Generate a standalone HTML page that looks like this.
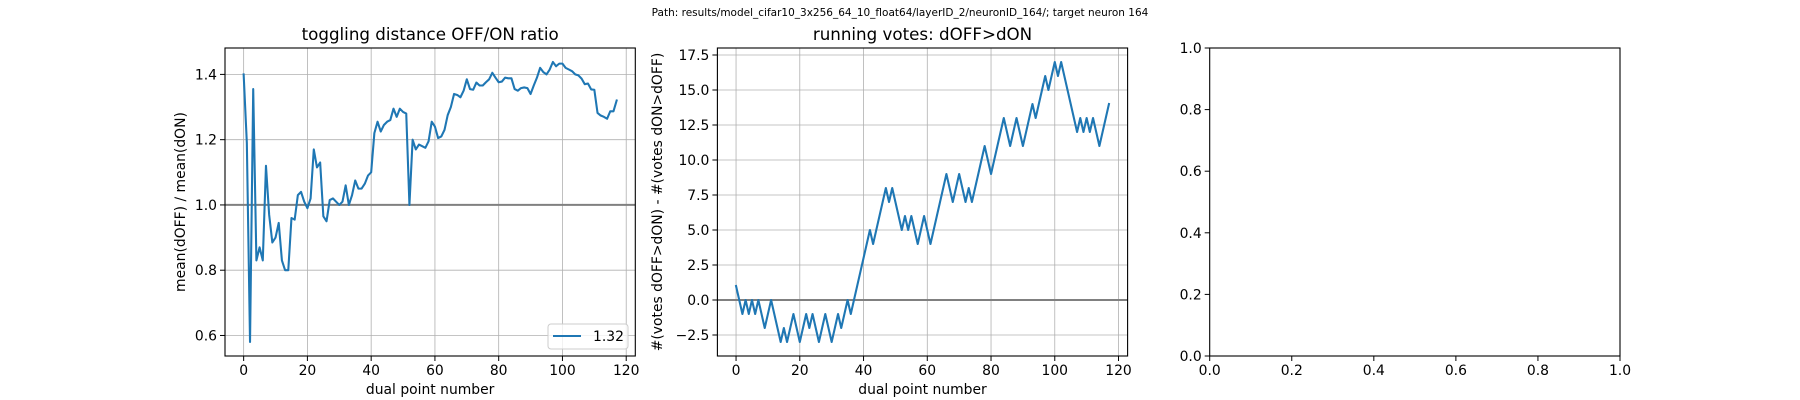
<!DOCTYPE html>
<html><head><meta charset="utf-8">
<style>
html,body{margin:0;padding:0;background:#fff;}
svg{display:block;font-family:"DejaVu Sans","Liberation Sans",sans-serif;}
</style></head>
<body>
<svg id="fig" width="1800" height="400" viewBox="0 0 1800 400" xmlns="http://www.w3.org/2000/svg">
<rect width="1800" height="400" fill="#fff"/>
<text x="900" y="16" font-size="10.5" text-anchor="middle" fill="#000">Path: results/model_cifar10_3x256_64_10_float64/layerID_2/neuronID_164/; target neuron 164</text>
</svg>
<script>
const ratioValues=[1.40,1.19,0.58,1.355,0.83,0.87,0.83,1.12,0.97,0.885,0.90,0.945,0.83,0.80,0.80,0.96,0.955,1.03,1.04,1.01,0.99,1.02,1.17,1.115,1.13,0.965,0.95,1.015,1.02,1.01,1.0,1.01,1.06,1.0,1.03,1.075,1.05,1.05,1.065,1.09,1.10,1.22,1.255,1.225,1.245,1.255,1.26,1.295,1.27,1.295,1.285,1.28,1.0,1.20,1.17,1.185,1.18,1.175,1.195,1.255,1.24,1.205,1.21,1.23,1.275,1.30,1.34,1.337,1.33,1.35,1.385,1.355,1.353,1.375,1.366,1.366,1.376,1.385,1.405,1.39,1.376,1.378,1.39,1.388,1.388,1.355,1.35,1.358,1.36,1.358,1.34,1.366,1.39,1.42,1.407,1.40,1.415,1.438,1.425,1.433,1.433,1.42,1.415,1.41,1.40,1.397,1.387,1.37,1.372,1.354,1.353,1.282,1.274,1.27,1.264,1.287,1.287,1.32];
const voteValues=[1,0,-1,0,-1,0,-1,0,-1,-2,-1,0,-1,-2,-3,-2,-3,-2,-1,-2,-3,-2,-1,-2,-1,-2,-3,-2,-1,-2,-3,-2,-1,-2,-1,0,-1,0,1,2,3,4,5,4,5,6,7,8,7,8,7,6,5,6,5,6,5,4,5,6,5,4,5,6,7,8,9,8,7,8,9,8,7,8,7,8,9,10,11,10,9,10,11,12,13,12,11,12,13,12,11,12,13,14,13,14,15,16,15,16,17,16,17,16,15,14,13,12,13,12,13,12,13,12,11,12,13,14];
const xTicks=[0,20,40,60,80,100,120];
const ratioYTicks=[0.6,0.8,1.0,1.2,1.4];
const voteYTicks=[-2.5,0,2.5,5,7.5,10,12.5,15,17.5];
const emptyTicks=[0,0.2,0.4,0.6,0.8,1.0];
const legendLabel=["1.32"];

const NS="http://www.w3.org/2000/svg";
const fig=document.getElementById('fig');
function el(tag,attrs,parent,text){const e=document.createElementNS(NS,tag);for(const k in attrs)e.setAttribute(k,attrs[k]);if(text!==undefined)e.textContent=text;(parent||fig).appendChild(e);return e;}
const TOP=48,BOT=356;
function fmt(v,d){let s=v.toFixed(d);return s.replace('-','\u2212');}

function makeAxes(name,L,R,xmin,xmax,ymin,ymax,opts){
  const g=el('g',{});
  
  
  const sx=v=>L+(v-xmin)/(xmax-xmin)*(R-L);
  const sy=v=>BOT-(v-ymin)/(ymax-ymin)*(BOT-TOP);
  if(opts.grid){
    opts.xt.forEach(t=>{const l=el('line',{x1:sx(t),x2:sx(t),y1:TOP,y2:BOT,stroke:'#b0b0b0','stroke-width':0.8},g);});
    opts.yt.forEach(t=>{const l=el('line',{x1:L,x2:R,y1:sy(t),y2:sy(t),stroke:'#b0b0b0','stroke-width':0.8},g);});
  }
  if(opts.ref!==undefined){const l=el('line',{x1:L,x2:R,y1:sy(opts.ref),y2:sy(opts.ref),stroke:'#808080','stroke-width':2},g);}
  if(opts.data){
    const pts=opts.data.map((v,i)=>sx(i).toFixed(2)+','+sy(v).toFixed(2)).join(' ');
    const p=el('polyline',{points:pts,fill:'none',stroke:'#1f77b4','stroke-width':2.08,'stroke-linejoin':'round','stroke-linecap':'square'},g);
    
    
  }
  const fr=el('rect',{x:L,y:TOP,width:R-L,height:BOT-TOP,fill:'none',stroke:'#000','stroke-width':1.1},g);
  
  
  opts.xt.forEach(t=>{
    el('line',{x1:sx(t),x2:sx(t),y1:BOT,y2:BOT+5,stroke:'#000','stroke-width':1},g);
    const tx=el('text',{x:sx(t),y:BOT+19,'font-size':13.9,'text-anchor':'middle'},g,fmt(t,opts.xd));
    
    
  });
  opts.yt.forEach(t=>{
    el('line',{x1:L-5,x2:L,y1:sy(t),y2:sy(t),stroke:'#000','stroke-width':1},g);
    const tx=el('text',{x:L-8,y:sy(t)+5,'font-size':13.9,'text-anchor':'end'},g,fmt(t,opts.yd));
    
    
  });
  if(opts.title){const t=el('text',{x:(L+R)/2,y:TOP-8,'font-size':16.7,'text-anchor':'middle'},g,opts.title);}
  if(opts.xlabel){const t=el('text',{x:(L+R)/2,y:BOT+38,'font-size':13.9,'text-anchor':'middle'},g,opts.xlabel);}
  if(opts.ylabel){const cx=opts.ylx,cy=(TOP+BOT)/2;const t=el('text',{x:cx,y:cy,'font-size':13.9,'text-anchor':'middle',transform:`rotate(-90 ${cx} ${cy})`},g,opts.ylabel);}
  return {g,sx,sy};
}

const n1=ratioValues.length-1;
const rmin=Math.min(...ratioValues),rmax=Math.max(...ratioValues),rpad=(rmax-rmin)*0.05;
const a1=makeAxes('ratio-chart',225,635.3,-n1*0.05,n1*1.05,rmin-rpad,rmax+rpad,{grid:true,ref:1.0,data:ratioValues,xt:xTicks,yt:ratioYTicks,xd:0,yd:1,title:'toggling distance OFF/ON ratio',xlabel:'dual point number',ylabel:'mean(dOFF) / mean(dON)',ylx:185});
// legend
const lg=el('g',{},a1.g);


el('rect',{x:548,y:324,width:80,height:25,rx:3,fill:'#fff','fill-opacity':0.8,stroke:'#cccccc','stroke-width':1},lg);
const le=el('line',{x1:553,x2:581,y1:336,y2:336,stroke:'#1f77b4','stroke-width':2.08},lg);


const lt=el('text',{x:593,y:341,'font-size':13.9},lg,legendLabel[0]);



const n2=voteValues.length-1;
const vmin=Math.min(...voteValues),vmax=Math.max(...voteValues),vpad=(vmax-vmin)*0.05;
makeAxes('votes-chart',717.4,1127.6,-n2*0.05,n2*1.05,vmin-vpad,vmax+vpad,{grid:true,ref:0,data:voteValues,xt:xTicks,yt:voteYTicks,xd:0,yd:1,title:'running votes: dOFF>dON',xlabel:'dual point number',ylabel:'#(votes dOFF>dON) - #(votes dON>dOFF)',ylx:662});

makeAxes('empty-chart',1209.7,1620,0,1,0,1,{grid:false,xt:emptyTicks,yt:emptyTicks,xd:1,yd:1});
</script>
</body></html>
